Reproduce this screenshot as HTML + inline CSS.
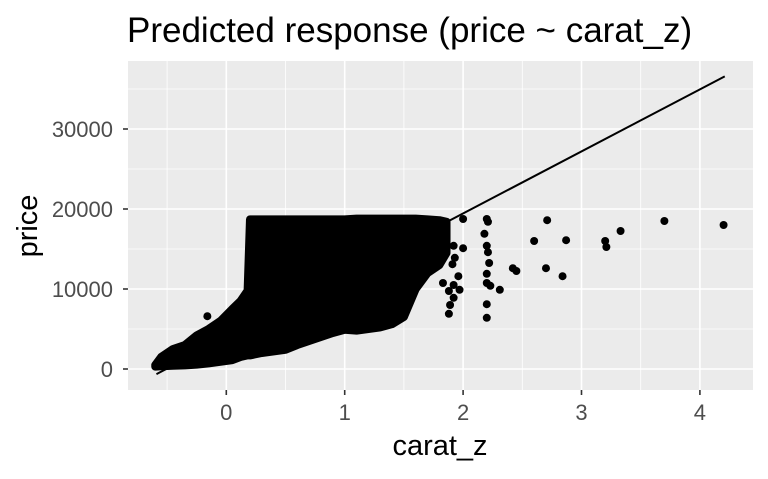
<!DOCTYPE html>
<html><head><meta charset="utf-8"><style>
body{margin:0;background:#fff;}
svg text{font-family:"Liberation Sans",Arial,sans-serif;}
</style></head><body>
<svg id="chart" width="768" height="474" xmlns="http://www.w3.org/2000/svg">
<text x="127" y="42" font-size="35" fill="#000">Predicted response (price ~ carat_z)</text>
<rect x="128" y="61" width="625" height="329" fill="#ebebeb"/>
<g id="grid"></g>
<g id="marks"></g>
<g id="axes"></g>
<text x="440" y="455" font-size="29" text-anchor="middle" fill="#000">carat_z</text>
<text transform="translate(37,226) rotate(-90)" font-size="29" text-anchor="middle" fill="#000">price</text>
</svg>
<script>
const xTicks=[0,1,2,3,4];
const yTicks=[0,10000,20000,30000];
const xMinor=[-0.5,0.5,1.5,2.5,3.5];
const yMinor=[5000,15000,25000,35000];
// dense region outline: carat_z, low price, high price
const colX=[-0.6,-0.55,-0.45,-0.35,-0.25,-0.15,-0.05,0.05,0.12,0.18,0.2,0.3,0.4,0.5,0.6,0.7,0.8,0.9,1.0,1.1,1.2,1.3,1.4,1.5,1.6,1.7,1.8,1.86];
const colLow=[300,350,400,450,550,700,900,1100,1500,1700,1700,2000,2200,2400,3000,3500,4000,4500,4900,4800,5000,5200,5600,6500,10000,12000,13000,14500];
const colHigh=[500,1500,2500,3000,4200,5000,6000,7500,8500,9800,18700,18700,18700,18700,18700,18700,18700,18700,18700,18800,18800,18800,18800,18800,18800,18700,18600,18400];
const ptX=[2.0,2.2,2.21,2.18,2.2,2.21,2.22,2.2,2.2,2.23,2.31,2.2,2.2,2.71,2.6,2.87,2.42,2.45,2.7,2.84,3.2,3.21,3.33,3.7,4.2,2.0,1.92,1.93,1.91,1.96,1.92,1.97,1.88,1.92,1.89,1.88,1.83,-0.16];
const ptY=[18750,18750,18400,16900,15400,14600,13250,11900,10750,10400,9900,8100,6400,18600,16000,16100,12600,12250,12600,11600,16000,15250,17250,18500,18000,15100,15400,13900,13100,11600,10500,9900,9750,8900,8000,6900,10750,6600];
const lineX=[-0.59,4.21];
const intercept=3930, slope=7756;

const NS="http://www.w3.org/2000/svg";
const X=v=>226.3+118.4*v;
const Y=p=>369-0.008*p;
const L=128,R=753,T=61,B=390;
function mk(tag,attrs,parent){const e=document.createElementNS(NS,tag);for(const k in attrs)e.setAttribute(k,attrs[k]);parent.appendChild(e);return e;}
const grid=document.getElementById('grid'),marks=document.getElementById('marks'),axes=document.getElementById('axes');
xMinor.forEach(v=>{const e=mk('line',{x1:X(v),x2:X(v),y1:T,y2:B,stroke:'#fff','stroke-width':0.8},grid);

});
yMinor.forEach(v=>{if(Y(v)<T)return;const e=mk('line',{x1:L,x2:R,y1:Y(v),y2:Y(v),stroke:'#fff','stroke-width':0.8},grid);

});
xTicks.forEach(v=>{const e=mk('line',{x1:X(v),x2:X(v),y1:T,y2:B,stroke:'#fff','stroke-width':1.6},grid);


const t=mk('line',{x1:X(v),x2:X(v),y1:B,y2:B+5,stroke:'#333','stroke-width':1.6},axes);


const l=mk('text',{x:X(v),y:420,'font-size':22,'text-anchor':'middle',fill:'#4d4d4d'},axes);l.textContent=v;

});
yTicks.forEach(v=>{const e=mk('line',{x1:L,x2:R,y1:Y(v),y2:Y(v),stroke:'#fff','stroke-width':1.6},grid);


const t=mk('line',{x1:L-5,x2:L,y1:Y(v),y2:Y(v),stroke:'#333','stroke-width':1.6},axes);


const l=mk('text',{x:113,y:Y(v)+8,'font-size':22,'text-anchor':'end',fill:'#4d4d4d'},axes);l.textContent=v;

});
let d='';
colX.forEach((v,i)=>{d+=(i?'L':'M')+X(v)+','+Y(colHigh[i]);});
for(let i=colX.length-1;i>=0;i--){d+='L'+X(colX[i])+','+Y(colLow[i]);}
d+='Z';
const area=mk('path',{d:d,fill:'#000',stroke:'#000','stroke-width':8,'stroke-linejoin':'round'},marks);


ptX.forEach((v,i)=>{const e=mk('circle',{cx:X(v),cy:Y(ptY[i]),r:4,fill:'#000'},marks);

});
const ln=mk('line',{x1:X(lineX[0]),y1:Y(intercept+slope*lineX[0]),x2:X(lineX[1]),y2:Y(intercept+slope*lineX[1]),stroke:'#000','stroke-width':2},marks);


</script>
</body></html>
